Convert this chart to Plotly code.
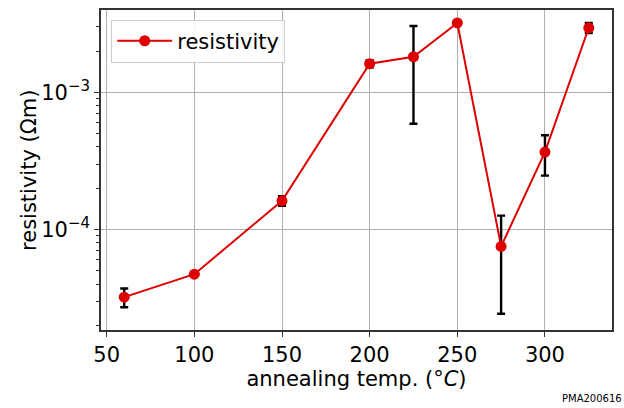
import plotly.graph_objects as go

# Annealing temperature (°C) and measured resistivity (Ω·m) with uncertainty
temps = [60, 100, 150, 200, 225, 250, 275, 300, 325]
resistivity = [3.21e-5, 4.72e-5, 1.62e-4, 1.62e-3, 1.82e-3, 3.21e-3, 7.53e-5, 3.67e-4, 2.96e-3]
resistivity_err = [0.50e-5, 0.0, 0.13e-4, 0.10e-3, 1.23e-3, 0.0, 5.1e-5, 1.2e-4, 0.25e-3]

# Major decade ticks on the resistivity axis
y_tickvals = [1e-4, 1e-3]
y_ticktext = ["10<sup><span style='font-size:15px'>−4</span></sup>",
              "10<sup><span style='font-size:15px'>−3</span></sup>"]

RED = "#dd0000"
FONT = "DejaVu Sans, Liberation Sans, sans-serif"

fig = go.Figure()
fig.add_trace(go.Scatter(
    x=temps, y=resistivity, name="resistivity",
    mode="lines+markers",
    line=dict(color=RED, width=2),
    marker=dict(color=RED, size=11),
    error_y=dict(type="data", array=resistivity_err, visible=True,
                 color="black", thickness=2.4, width=4),
))

axis_common = dict(
    showline=True, linecolor="#333333", linewidth=1.6, mirror=True,
    ticks="outside", ticklen=5, tickwidth=1.3, tickcolor="#333333",
    showgrid=True, gridcolor="#b0b0b0", gridwidth=1,
    zeroline=False,
    tickfont=dict(family=FONT, size=21, color="black"),
)

fig.update_xaxes(
    **axis_common,
    range=[46.75, 338.25],
    tickvals=[50, 100, 150, 200, 250, 300],
    title=dict(text="annealing temp. (<i>°C</i>)", font=dict(family=FONT, size=21, color="black"),
               standoff=5),
)
fig.update_yaxes(
    **axis_common,
    type="log",
    range=[-4.733, -2.399],
    tickvals=y_tickvals,
    ticktext=y_ticktext,
    minor=dict(ticks="outside", ticklen=3, tickcolor="#333333", tickwidth=1, showgrid=False,
               dtick="D1"),
)

fig.update_layout(
    width=624, height=408,
    margin=dict(l=101, r=12, t=8, b=78),
    paper_bgcolor="white", plot_bgcolor="white",
    showlegend=True,
    legend=dict(x=0.02, y=0.97, xanchor="left", yanchor="top",
                itemwidth=55,
                bgcolor="rgba(255,255,255,0.85)", bordercolor="#cccccc", borderwidth=1,
                font=dict(family=FONT, size=21, color="black")),
    annotations=[
        # y-axis label placed explicitly
        dict(text="resistivity (Ωm)", xref="paper", yref="paper", x=-0.141, y=0.5,
             xanchor="center", yanchor="middle", textangle=-90, showarrow=False,
             font=dict(family=FONT, size=21, color="black")),
        dict(text="PMA200616", xref="paper", yref="paper", x=1.0235, y=-0.236,
             xanchor="right", yanchor="bottom", showarrow=False,
             font=dict(family=FONT, size=10, color="black")),
    ],
)

fig.write_html("out.html")
